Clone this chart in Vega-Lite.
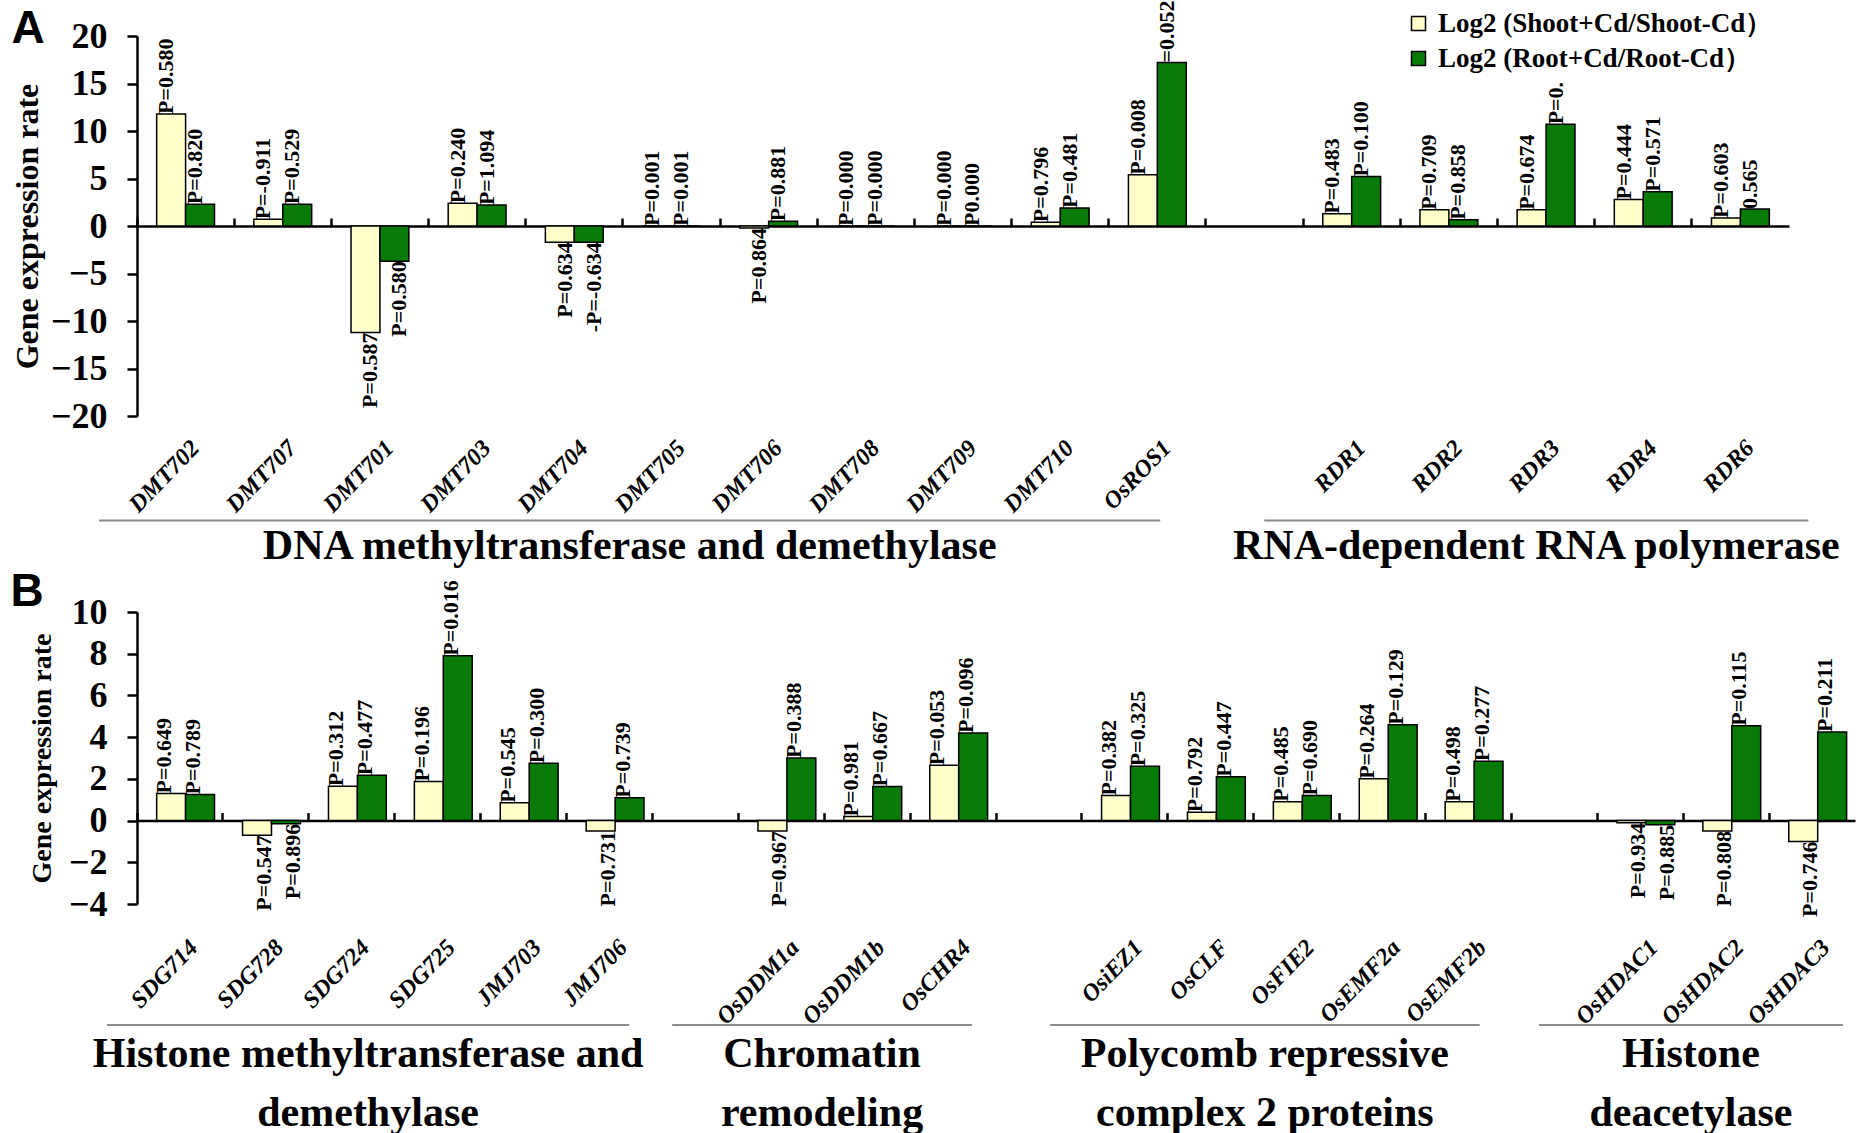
{
  "$schema": "https://vega.github.io/schema/vega-lite/v6.json",
  "background": "white",
  "padding": {"left": 10, "top": 0, "right": 5, "bottom": 0},
  "config": {
    "view": {"stroke": null},
    "font": "Liberation Serif",
    "axisY": {
      "titleFont": "Liberation Serif", "titleFontWeight": "bold", "titleColor": "black", "titlePadding": 6,
      "labelFont": "Liberation Serif", "labelFontSize": 36, "labelFontWeight": "bold", "labelColor": "black", "labelPadding": 20, "labelOverlap": false,
      "domainColor": "black", "domainWidth": 2.5, "tickColor": "black", "tickWidth": 2.5, "tickSize": 10, "grid": false
    }
  },
  "datasets": {
    "panelA": [
      {"gene": "DMT702", "tissue": "Shoot", "v": 11.8, "p": "P=0.580"},
      {"gene": "DMT702", "tissue": "Root", "v": 2.3, "p": "P=0.820"},
      {"gene": "DMT707", "tissue": "Shoot", "v": 0.7, "p": "P=-0.911"},
      {"gene": "DMT707", "tissue": "Root", "v": 2.3, "p": "P=0.529"},
      {"gene": "DMT701", "tissue": "Shoot", "v": -11.2, "p": "P=0.587"},
      {"gene": "DMT701", "tissue": "Root", "v": -3.7, "p": "P=0.580"},
      {"gene": "DMT703", "tissue": "Shoot", "v": 2.4, "p": "P=0.240"},
      {"gene": "DMT703", "tissue": "Root", "v": 2.2, "p": "P=1.094"},
      {"gene": "DMT704", "tissue": "Shoot", "v": -1.7, "p": "P=0.634"},
      {"gene": "DMT704", "tissue": "Root", "v": -1.7, "p": "-P=-0.634"},
      {"gene": "DMT705", "tissue": "Shoot", "v": 0, "p": "P=0.001"},
      {"gene": "DMT705", "tissue": "Root", "v": 0, "p": "P=0.001"},
      {"gene": "DMT706", "tissue": "Shoot", "v": -0.2, "p": "P=0.864"},
      {"gene": "DMT706", "tissue": "Root", "v": 0.5, "p": "P=0.881"},
      {"gene": "DMT708", "tissue": "Shoot", "v": 0, "p": "P=0.000"},
      {"gene": "DMT708", "tissue": "Root", "v": 0, "p": "P=0.000"},
      {"gene": "DMT709", "tissue": "Shoot", "v": 0, "p": "P=0.000"},
      {"gene": "DMT709", "tissue": "Root", "v": 0, "p": "P0.000"},
      {"gene": "DMT710", "tissue": "Shoot", "v": 0.4, "p": "P=0.796"},
      {"gene": "DMT710", "tissue": "Root", "v": 1.9, "p": "P=0.481"},
      {"gene": "OsROS1", "tissue": "Shoot", "v": 5.4, "p": "P=0.008"},
      {"gene": "OsROS1", "tissue": "Root", "v": 17.2, "p": "=0.052"},
      {"gene": "RDR1", "tissue": "Shoot", "v": 1.3, "p": "P=0.483"},
      {"gene": "RDR1", "tissue": "Root", "v": 5.2, "p": "P=0.100"},
      {"gene": "RDR2", "tissue": "Shoot", "v": 1.7, "p": "P=0.709"},
      {"gene": "RDR2", "tissue": "Root", "v": 0.65, "p": "P=0.858"},
      {"gene": "RDR3", "tissue": "Shoot", "v": 1.7, "p": "P=0.674"},
      {"gene": "RDR3", "tissue": "Root", "v": 10.7, "p": "P=0."},
      {"gene": "RDR4", "tissue": "Shoot", "v": 2.8, "p": "P=0.444"},
      {"gene": "RDR4", "tissue": "Root", "v": 3.6, "p": "P=0.571"},
      {"gene": "RDR6", "tissue": "Shoot", "v": 0.85, "p": "P=0.603"},
      {"gene": "RDR6", "tissue": "Root", "v": 1.8, "p": "0.565"}
    ],
    "panelB": [
      {"gene": "SDG714", "tissue": "Shoot", "v": 1.3, "p": "P=0.649"},
      {"gene": "SDG714", "tissue": "Root", "v": 1.25, "p": "P=0.789"},
      {"gene": "SDG728", "tissue": "Shoot", "v": -0.7, "p": "P=0.547"},
      {"gene": "SDG728", "tissue": "Root", "v": -0.15, "p": "P=0.896"},
      {"gene": "SDG724", "tissue": "Shoot", "v": 1.65, "p": "P=0.312"},
      {"gene": "SDG724", "tissue": "Root", "v": 2.17, "p": "P=0.477"},
      {"gene": "SDG725", "tissue": "Shoot", "v": 1.87, "p": "P=0.196"},
      {"gene": "SDG725", "tissue": "Root", "v": 7.9, "p": "P=0.016"},
      {"gene": "JMJ703", "tissue": "Shoot", "v": 0.85, "p": "P=0.545"},
      {"gene": "JMJ703", "tissue": "Root", "v": 2.75, "p": "P=0.300"},
      {"gene": "JMJ706", "tissue": "Shoot", "v": -0.5, "p": "P=0.731"},
      {"gene": "JMJ706", "tissue": "Root", "v": 1.1, "p": "P=0.739"},
      {"gene": "OsDDM1a", "tissue": "Shoot", "v": -0.5, "p": "P=0.967"},
      {"gene": "OsDDM1a", "tissue": "Root", "v": 3.0, "p": "P=0.388"},
      {"gene": "OsDDM1b", "tissue": "Shoot", "v": 0.2, "p": "P=0.981"},
      {"gene": "OsDDM1b", "tissue": "Root", "v": 1.63, "p": "P=0.667"},
      {"gene": "OsCHR4", "tissue": "Shoot", "v": 2.65, "p": "P=0.053"},
      {"gene": "OsCHR4", "tissue": "Root", "v": 4.2, "p": "P=0.096"},
      {"gene": "OsiEZ1", "tissue": "Shoot", "v": 1.2, "p": "P=0.382"},
      {"gene": "OsiEZ1", "tissue": "Root", "v": 2.6, "p": "P=0.325"},
      {"gene": "OsCLF", "tissue": "Shoot", "v": 0.4, "p": "P=0.792"},
      {"gene": "OsCLF", "tissue": "Root", "v": 2.1, "p": "P=0.447"},
      {"gene": "OsFIE2", "tissue": "Shoot", "v": 0.9, "p": "P=0.485"},
      {"gene": "OsFIE2", "tissue": "Root", "v": 1.2, "p": "P=0.690"},
      {"gene": "OsEMF2a", "tissue": "Shoot", "v": 2.0, "p": "P=0.264"},
      {"gene": "OsEMF2a", "tissue": "Root", "v": 4.6, "p": "P=0.129"},
      {"gene": "OsEMF2b", "tissue": "Shoot", "v": 0.9, "p": "P=0.498"},
      {"gene": "OsEMF2b", "tissue": "Root", "v": 2.85, "p": "P=0.277"},
      {"gene": "OsHDAC1", "tissue": "Shoot", "v": -0.1, "p": "P=0.934"},
      {"gene": "OsHDAC1", "tissue": "Root", "v": -0.2, "p": "P=0.885"},
      {"gene": "OsHDAC2", "tissue": "Shoot", "v": -0.5, "p": "P=0.808"},
      {"gene": "OsHDAC2", "tissue": "Root", "v": 4.55, "p": "P=0.115"},
      {"gene": "OsHDAC3", "tissue": "Shoot", "v": -1.0, "p": "P=0.746"},
      {"gene": "OsHDAC3", "tissue": "Root", "v": 4.25, "p": "P=0.211"}
    ],
    "groupsA": [
      {"group": "DNA methyltransferase and demethylase", "at": -0.39},
      {"group": "DNA methyltransferase and demethylase", "at": 10.53},
      {"group": "RNA-dependent RNA polymerase", "at": 11.6},
      {"group": "RNA-dependent RNA polymerase", "at": 17.2}
    ],
    "groupsB": [
      {"group": "Histone methyltransferase and\ndemethylase", "at": -0.35},
      {"group": "Histone methyltransferase and\ndemethylase", "at": 5.73},
      {"group": "Chromatin\nremodeling", "at": 6.23},
      {"group": "Chromatin\nremodeling", "at": 9.72},
      {"group": "Polycomb repressive\ncomplex 2 proteins", "at": 10.63},
      {"group": "Polycomb repressive\ncomplex 2 proteins", "at": 15.63},
      {"group": "Histone\ndeacetylase", "at": 16.32},
      {"group": "Histone\ndeacetylase", "at": 19.86}
    ]
  },
  "spacing": 1,
  "resolve": {"scale": {"fill": "independent"}, "legend": {"fill": "independent"}},
  "vconcat": [
    {
      "title": {"text": "A", "anchor": "start", "frame": "bounds", "font": "Liberation Sans", "fontSize": 46, "fontWeight": "bold", "color": "black", "offset": -52},
      "width": 1652,
      "height": 380,
      "resolve": {"scale": {"x": "independent"}},
      "layer": [
        {
          "data": {"name": "panelA"},
          "encoding": {
            "x": {
              "field": "gene", "type": "nominal", "sort": null,
              "scale": {"domain": ["DMT702", "DMT707", "DMT701", "DMT703", "DMT704", "DMT705", "DMT706", "DMT708", "DMT709", "DMT710", "OsROS1", " ", "RDR1", "RDR2", "RDR3", "RDR4", "RDR6"], "paddingInner": 0, "paddingOuter": 0},
              "axis": {
                "orient": "bottom", "offset": -190, "title": null, "bandPosition": 0,
                "domainColor": "black", "domainWidth": 2.5, "tickColor": "black", "tickWidth": 2.5, "tickSize": -8,
                "labelAngle": -46, "labelAlign": "right", "labelBaseline": "middle", "labelPadding": 226, "labelOffset": 10,
                "labelFont": "Liberation Serif", "labelFontStyle": "italic", "labelFontWeight": "bold", "labelFontSize": 24, "labelColor": "black",
                "labelOverlap": false, "labelBound": false, "grid": false
              }
            },
            "xOffset": {"field": "tissue", "type": "nominal", "sort": ["Shoot", "Root"], "scale": {"domain": ["Shoot", "Root"], "paddingOuter": 0.68, "paddingInner": 0}},
            "y": {
              "field": "v", "type": "quantitative",
              "scale": {"domain": [-20, 20], "nice": false, "zero": false},
              "axis": {"title": "Gene expression rate", "titleFontSize": 32, "values": [-20, -15, -10, -5, 0, 5, 10, 15, 20]}
            }
          },
          "layer": [
            {
              "mark": {"type": "bar", "stroke": "black", "strokeWidth": 1.5},
              "encoding": {
                "fill": {
                  "field": "tissue", "type": "nominal",
                  "scale": {"domain": ["Shoot", "Root"], "range": ["#FFFFCC", "#087A08"]},
                  "legend": {
                    "title": null, "orient": "none", "legendX": 1268, "legendY": -26,
                    "symbolType": "square", "symbolSize": 196, "symbolStrokeColor": "black", "symbolStrokeWidth": 1.5,
                    "labelFont": "Liberation Serif", "labelFontWeight": "bold", "labelFontSize": 27, "labelColor": "black",
                    "labelLimit": 700, "rowPadding": 7, "labelOffset": 6,
                    "labelExpr": "datum.value == 'Shoot' ? 'Log2 (Shoot+Cd/Shoot-Cd）' : 'Log2 (Root+Cd/Root-Cd）'"
                  }
                }
              }
            },
            {
              "transform": [{"filter": "datum.v >= 0"}],
              "mark": {"type": "text", "angle": 270, "align": "left", "baseline": "middle", "dy": -5, "font": "Liberation Serif", "fontWeight": "bold", "fontSize": 22, "color": "black"},
              "encoding": {"text": {"field": "p"}}
            },
            {
              "transform": [{"filter": "datum.v < 0"}],
              "mark": {"type": "text", "angle": 270, "align": "right", "baseline": "middle", "dy": 5, "font": "Liberation Serif", "fontWeight": "bold", "fontSize": 22, "color": "black"},
              "encoding": {"text": {"field": "p"}}
            }
          ]
        },
        {
          "data": {"name": "groupsA"},
          "layer": [
            {
              "mark": {"type": "rule", "color": "#8a8a8a", "strokeWidth": 2},
              "encoding": {
                "x": {"aggregate": "min", "field": "at", "type": "quantitative", "scale": {"domain": [0, 17], "nice": false, "zero": false}, "axis": null},
                "x2": {"aggregate": "max", "field": "at"},
                "detail": {"field": "group"},
                "y": {"datum": -31}
              }
            },
            {
              "mark": {"type": "text", "font": "Liberation Serif", "fontWeight": "bold", "fontSize": 42, "baseline": "middle", "color": "black"},
              "encoding": {
                "x": {"aggregate": "mean", "field": "at", "type": "quantitative", "scale": {"domain": [0, 17], "nice": false, "zero": false}, "axis": null},
                "y": {"datum": -33.7},
                "text": {"field": "group"}
              }
            }
          ]
        }
      ]
    },
    {
      "title": {"text": "B", "anchor": "start", "frame": "bounds", "font": "Liberation Sans", "fontSize": 46, "fontWeight": "bold", "color": "black", "offset": -36, "dx": -18},
      "width": 1718,
      "height": 292,
      "resolve": {"scale": {"x": "independent"}},
      "layer": [
        {
          "data": {"name": "panelB"},
          "encoding": {
            "x": {
              "field": "gene", "type": "nominal", "sort": null,
              "scale": {"domain": ["SDG714", "SDG728", "SDG724", "SDG725", "JMJ703", "JMJ706", " ", "OsDDM1a", "OsDDM1b", "OsCHR4", "  ", "OsiEZ1", "OsCLF", "OsFIE2", "OsEMF2a", "OsEMF2b", "   ", "OsHDAC1", "OsHDAC2", "OsHDAC3"], "paddingInner": 0, "paddingOuter": 0},
              "axis": {
                "orient": "bottom", "offset": -83.4, "title": null, "bandPosition": 0,
                "domainColor": "black", "domainWidth": 2.5, "tickColor": "black", "tickWidth": 2.5, "tickSize": -8,
                "labelAngle": -46, "labelAlign": "right", "labelBaseline": "middle", "labelPadding": 131, "labelOffset": 14,
                "labelFont": "Liberation Serif", "labelFontStyle": "italic", "labelFontWeight": "bold", "labelFontSize": 24, "labelColor": "black",
                "labelOverlap": false, "labelBound": false, "grid": false
              }
            },
            "xOffset": {"field": "tissue", "type": "nominal", "sort": ["Shoot", "Root"], "scale": {"domain": ["Shoot", "Root"], "paddingOuter": 0.68, "paddingInner": 0}},
            "y": {
              "field": "v", "type": "quantitative",
              "scale": {"domain": [-4, 10], "nice": false, "zero": false},
              "axis": {"title": "Gene expression rate", "titleFontSize": 28, "titlePadding": 12, "values": [-4, -2, 0, 2, 4, 6, 8, 10]}
            }
          },
          "layer": [
            {
              "mark": {"type": "bar", "stroke": "black", "strokeWidth": 1.5},
              "encoding": {
                "fill": {"field": "tissue", "type": "nominal", "scale": {"domain": ["Shoot", "Root"], "range": ["#FFFFCC", "#087A08"]}, "legend": null}
              }
            },
            {
              "transform": [{"filter": "datum.v >= 0"}],
              "mark": {"type": "text", "angle": 270, "align": "left", "baseline": "middle", "dy": -7, "font": "Liberation Serif", "fontWeight": "bold", "fontSize": 22, "color": "black"},
              "encoding": {"text": {"field": "p"}}
            },
            {
              "transform": [{"filter": "datum.v < 0"}],
              "mark": {"type": "text", "angle": 270, "align": "right", "baseline": "middle", "dy": 7, "font": "Liberation Serif", "fontWeight": "bold", "fontSize": 22, "color": "black"},
              "encoding": {"text": {"field": "p"}}
            }
          ]
        },
        {
          "data": {"name": "groupsB"},
          "layer": [
            {
              "mark": {"type": "rule", "color": "#8a8a8a", "strokeWidth": 2},
              "encoding": {
                "x": {"aggregate": "min", "field": "at", "type": "quantitative", "scale": {"domain": [0, 20], "nice": false, "zero": false}, "axis": null},
                "x2": {"aggregate": "max", "field": "at"},
                "detail": {"field": "group"},
                "y": {"datum": -9.8}
              }
            },
            {
              "mark": {"type": "text", "font": "Liberation Serif", "fontWeight": "bold", "fontSize": 42, "baseline": "top", "lineBreak": "\n", "lineHeight": 59, "color": "black"},
              "encoding": {
                "x": {"aggregate": "mean", "field": "at", "type": "quantitative", "scale": {"domain": [0, 20], "nice": false, "zero": false}, "axis": null},
                "y": {"datum": -10.25},
                "text": {"field": "group"}
              }
            }
          ]
        }
      ]
    }
  ]
}
